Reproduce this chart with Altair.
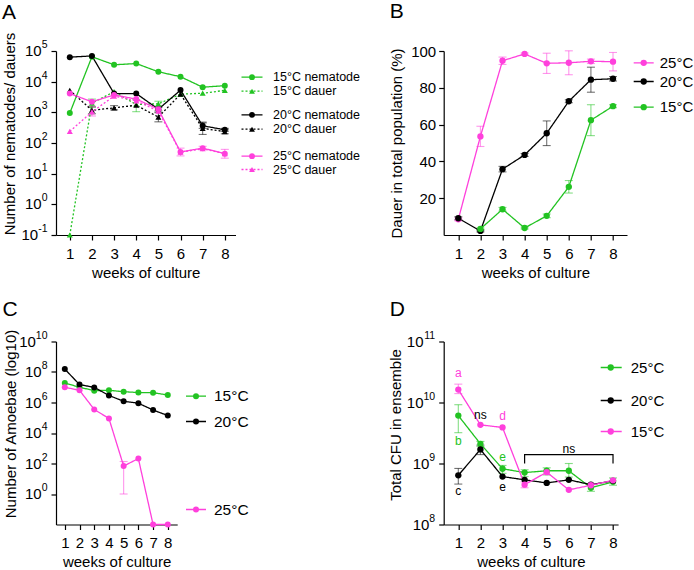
import altair as alt
import pandas as pd

FONT = "Liberation Sans"
GREEN = "#22c322"
BLACK = "#000000"
MAGENTA = "#ff40dc"

weeks = [1, 2, 3, 4, 5, 6, 7, 8]
x_title = "weeks of culture"

# ---------------- Panel A : nematodes / dauers ----------------
a_names = ["15°C nematode", "15°C dauer", "20°C nematode", "20°C dauer", "25°C nematode", "25°C dauer"]
a_15_nem = [950, 65000, 35500, 39000, 21000, 14500, 6600, 7400]
a_15_dau = [0.1, 2000, 4700, 1800, 1900, 3900, 4200, 5200]
a_20_nem = [63000, 69000, 4100, 4100, 1260, 5300, 365, 270]
a_20_dau = [5200, 1170, 1400, 1700, 700, 3900, 300, 235]
a_25_nem = [4100, 2200, 3700, 2700, 1260, 51, 68, 45]
a_25_dau = [240, 1030, 3400, 2350, 1100, 50, 65, 45]
a_15_nem_lo = [None] * 8
a_15_nem_hi = [None] * 8
a_15_dau_lo = [None, 1500, None, 1050, 1600, None, None, None]
a_15_dau_hi = [None, 2700, None, 2600, 2300, None, None, None]
a_20_nem_lo = [None, None, None, None, 1100, None, 300, 240]
a_20_nem_hi = [None, None, None, None, 1450, None, 450, 300]
a_20_dau_lo = [None, 900, 1200, None, 490, None, 190, 200]
a_20_dau_hi = [None, 1500, 1650, None, 980, None, 480, 270]
a_25_nem_lo = [None, None, None, None, None, 38, 60, 32]
a_25_nem_hi = [None, None, None, None, None, 68, 78, 62]
a_25_dau_lo = [None, 760, None, None, None, None, None, None]
a_25_dau_hi = [None, 1600, None, None, None, None, None, None]
a_exps = [-1, 0, 1, 2, 3, 4, 5]

# ---------------- Panel B : % dauer ----------------
b_names = ["25°C", "20°C", "15°C"]
b_25 = [8.5, 53.6, 94.7, 98.4, 93.3, 93.6, 94.4, 94.2]
b_25_sd = [0.8, 5.5, 2.0, 0.5, 5.5, 6.5, 1.2, 5.0]
b_20 = [9.1, 2.2, 35.8, 43.5, 55.3, 72.7, 84.4, 84.9]
b_20_sd = [0.8, 0.5, 1.5, 0.8, 6.7, 0.8, 6.8, 1.2]
b_15 = [None, 3.3, 14.0, 3.8, 10.4, 26.2, 62.4, 70.0]
b_15_sd = [None, 0.5, 1.0, 0.5, 1.0, 3.4, 8.4, 0.8]
b_ticks = [20, 40, 60, 80, 100]

# ---------------- Panel C : amoebae ----------------
c_names = ["15°C", "20°C", "25°C"]
c_15 = [1.9e7, 1.0e7, 6.0e6, 6.3e6, 5.1e6, 4.5e6, 4.4e6, 3.1e6]
c_20 = [1.55e8, 1.5e7, 9.8e6, 2.9e6, 1.2e6, 9.0e5, 3.2e5, 1.4e5]
c_25 = [1.0e7, 6.3e6, 3.5e5, 9.0e4, 68, 210, 0, 0]
c_25_lo = [None, None, None, None, 1, None, None, None]
c_25_hi = [None, None, None, None, 135, None, None, None]
c_floor = 1e-2  # zero counts sit on the axis floor
c_exps = [0, 2, 4, 6, 8, 10]

# ---------------- Panel D : CFU ----------------
d_names = ["25°C", "20°C", "15°C"]
d_25 = [6.1e9, 2.1e9, 8.2e8, 7.1e8, 7.6e8, 7.6e8, 4.0e8, 5.0e8]
d_25_lo = [3.2e9, 1.9e9, 6.9e8, 6.1e8, 6.5e8, 6.0e8, 3.5e8, 4.4e8]
d_25_hi = [9.2e9, 2.3e9, 9.3e8, 7.9e8, 8.5e8, 1.0e9, 4.6e8, 5.8e8]
d_20 = [6.4e8, 1.7e9, 6.1e8, 5.4e8, 4.8e8, 5.4e8, 4.5e8, 5.2e8]
d_20_lo = [4.6e8, 1.4e9, None, None, None, None, None, None]
d_20_hi = [8.3e8, 2.0e9, None, None, None, None, None, None]
d_15 = [1.63e10, 4.3e9, 3.9e9, 4.5e8, 7.2e8, 3.7e8, 4.4e8, 5.3e8]
d_15_lo = [1.4e10, None, None, 4.0e8, None, None, None, None]
d_15_hi = [2.0e10, None, None, 5.0e8, None, None, None, None]
d_exps = [8, 9, 10, 11]
d_ann_text = ["a", "b", "c", "ns", "d", "e", "e", "ns"]
d_ann_series = ["15°C", "25°C", "20°C", "20°C", "15°C", "25°C", "20°C", "20°C"]
d_ann_week = [1, 1, 1, 2, 3, 3, 3, 6]
d_ann_value = [3.0e10, 2.3e9, 3.6e8, 6.3e9, 6.0e9, 1.3e9, 4.1e8, 1.75e9]
d_br_week = [4, 4, 8, 8]
d_br_value = [1.0e9, 1.4e9, 1.4e9, 1.0e9]

EXP_FS = 10.5
LABEL_END = -8.5  # tickSize + label padding


def exp_width(e):
    s = str(e)
    return sum(0.333 if c == "-" else 0.556 for c in s) * EXP_FS


def long_df(names, vals, los, his):
    rows = []
    for n, v, lo, hi in zip(names, vals, los, his):
        for w, vv, l, h in zip(weeks, v, lo, hi):
            if vv is None:
                continue
            rows.append(dict(week=w, value=vv, series=n, lo=l, hi=h))
    return pd.DataFrame(rows)


def sd_bounds(v, sd, sign):
    return [None if a is None else a + sign * s for a, s in zip(v, sd)]


one = alt.Data(values=[{}])


def log_axis(exps, title, tx, ty=None):
    kw = dict(values=[10.0 ** e for e in exps], labels=False, title=title, titleX=tx,
              titleBaseline="middle")
    if ty is not None:
        kw["titleY"] = ty
    return alt.Axis(**kw)


def power_labels(exps, yscale, yaxis):
    """'10' base + raised exponent, placed on the y scale at each tick."""
    layers = []
    widths = sorted(set(round(exp_width(e), 2) for e in exps))
    for wd in widths:
        grp = [e for e in exps if round(exp_width(e), 2) == wd]
        df = pd.DataFrame(dict(value=[10.0 ** e for e in grp], base=["10"] * len(grp)))
        layers.append(alt.Chart(df).mark_text(align="right", baseline="middle", fontSize=15, font=FONT,
                                              color="black").encode(
            x=alt.value(LABEL_END - wd), y=alt.Y("value:Q", scale=yscale, axis=yaxis), text="base:N"))
    df = pd.DataFrame(dict(value=[10.0 ** e for e in exps], txt=[str(e) for e in exps]))
    layers.append(alt.Chart(df).mark_text(align="right", baseline="middle", fontSize=EXP_FS, font=FONT,
                                          color="black", dy=-6).encode(
        x=alt.value(LABEL_END), y=alt.Y("value:Q", scale=yscale, axis=yaxis), text="txt:N"))
    return layers


def legend_entry(x0, x1, xdot, xtext, y, color, dash, shape, label, fs, size):
    return [
        alt.Chart(one).mark_rule(color=color, strokeWidth=1.3, strokeDash=dash).encode(
            x=alt.value(x0), x2=alt.value(x1), y=alt.value(y)),
        alt.Chart(one).mark_point(filled=True, opacity=1, color=color, shape=shape, size=size).encode(
            x=alt.value(xdot), y=alt.value(y)),
        alt.Chart(one).mark_text(align="left", baseline="middle", fontSize=fs, font=FONT, color="black").encode(
            x=alt.value(xtext), y=alt.value(y), text=alt.value(label)),
    ]


def panel(df, names, colors, dashes, shapes, psize, xdom, yscale, yaxis, legend, letter, lxy):
    X = alt.X("week:Q", scale=alt.Scale(domain=xdom, nice=False, zero=False),
              axis=alt.Axis(values=weeks, title=x_title, labelPadding=6, titleY=37,
                            titleBaseline="middle", labelOverlap=False))
    Y = alt.Y("value:Q", scale=yscale, axis=yaxis)
    C = alt.Color("series:N", scale=alt.Scale(domain=names, range=colors), legend=None)
    layers = []
    err = df.dropna(subset=["lo"])
    if len(err):
        eb = alt.Chart(err)
        layers.append(eb.mark_rule(strokeWidth=1.1, opacity=0.55).encode(
            x=X, y=alt.Y("lo:Q", scale=yscale, axis=yaxis), y2="hi:Q", color=C))
        for f in ["lo", "hi"]:
            layers.append(eb.mark_rule(strokeWidth=1.1, opacity=0.55, xOffset=-4, x2Offset=4).encode(
                x=X, x2="week:Q", y=alt.Y(f + ":Q", scale=yscale, axis=yaxis), color=C))
    base = alt.Chart(df)
    layers.append(base.mark_line(strokeWidth=1.3).encode(
        x=X, y=Y, color=C,
        strokeDash=alt.StrokeDash("series:N", scale=alt.Scale(domain=names, range=dashes), legend=None)))
    layers.append(base.mark_point(filled=True, opacity=1, size=psize).encode(
        x=X, y=Y, color=C,
        shape=alt.Shape("series:N", scale=alt.Scale(domain=names, range=shapes), legend=None)))
    for e in legend:
        layers += legend_entry(*e)
    layers.append(alt.Chart(one).mark_text(align="left", baseline="alphabetic", fontSize=21,
                                           font=FONT, color="black").encode(
        x=alt.value(lxy[0]), y=alt.value(lxy[1]), text=alt.value(letter)))
    return layers, X, C


# ---- A
dfA = long_df(a_names, [a_15_nem, a_15_dau, a_20_nem, a_20_dau, a_25_nem, a_25_dau],
              [a_15_nem_lo, a_15_dau_lo, a_20_nem_lo, a_20_dau_lo, a_25_nem_lo, a_25_dau_lo],
              [a_15_nem_hi, a_15_dau_hi, a_20_nem_hi, a_20_dau_hi, a_25_nem_hi, a_25_dau_hi])
A_colors = [GREEN, GREEN, BLACK, BLACK, MAGENTA, MAGENTA]
A_dash = [[1, 0], [2, 2], [1, 0], [2, 2], [1, 0], [2, 2]]
A_shape = ["circle", "triangle-up"] * 3
A_y = [26.2, 40.2, 63.8, 78.2, 105.2, 118.5]
A_leg = [(185.5, 206.5, 196, 217, A_y[i], A_colors[i], A_dash[i], A_shape[i], a_names[i], 12.5, 34)
         for i in range(6)]
A_yscale = alt.Scale(type="log", domain=[0.1, 1e5], nice=False)
A_yaxis = log_axis(a_exps, "Number of nematodes/ dauers", -47, 82.5)
lA, _, _ = panel(dfA, a_names, A_colors, A_dash, A_shape, 36, [0.377, 8.483],
                 A_yscale, A_yaxis, A_leg, "A", (-54, -32))
lA += power_labels(a_exps, A_yscale, A_yaxis)
chartA = alt.layer(*lA).properties(width=179.5, height=184)

# ---- B
dfB = long_df(b_names, [b_25, b_20, b_15],
              [sd_bounds(b_25, b_25_sd, -1), sd_bounds(b_20, b_20_sd, -1), sd_bounds(b_15, b_15_sd, -1)],
              [sd_bounds(b_25, b_25_sd, 1), sd_bounds(b_20, b_20_sd, 1), sd_bounds(b_15, b_15_sd, 1)])
B_colors = [MAGENTA, BLACK, GREEN]
B_y = [11.8, 30.5, 56.2]
B_leg = [(190, 210, 200, 216, B_y[i], B_colors[i], [1, 0], "circle", b_names[i], 15, 40) for i in range(3)]
B_yscale = alt.Scale(domain=[0, 100], nice=False)
B_yaxis = alt.Axis(values=b_ticks, title="Dauer in total population (%)",
                   titleX=-47, titleBaseline="middle", labelOverlap=False)
lB, _, _ = panel(dfB, b_names, B_colors, [[1, 0]] * 3, ["circle"] * 3, 40, [0.339, 8.633],
                 B_yscale, B_yaxis, B_leg, "B", (-54, -33))
chartB = alt.layer(*lB).properties(width=183.3, height=184)

# ---- C
c_vals = [c_15, c_20, [max(v, c_floor) for v in c_25]]
dfC = long_df(c_names, c_vals, [[None] * 8, [None] * 8, c_25_lo], [[None] * 8, [None] * 8, c_25_hi])
C_colors = [GREEN, BLACK, MAGENTA]
C_y = [54.7, 80, 168]
C_leg = [(130, 150, 140, 158, C_y[i], C_colors[i], [1, 0], "circle", c_names[i], 15.5, 36) for i in range(3)]
C_yscale = alt.Scale(type="log", domain=[1e-2, 1e10], nice=False, clamp=True)
C_yaxis = log_axis(c_exps, "Number of Amoebae (log10)", -46, 82)
lC, _, _ = panel(dfC, c_names, C_colors, [[1, 0]] * 3, ["circle"] * 3, 36, [0.402, 8.64],
                 C_yscale, C_yaxis, C_leg, "C", (-53.5, -26))
lC += power_labels(c_exps, C_yscale, C_yaxis)
chartC = alt.layer(*lC).properties(width=121.2, height=183)

# ---- D
dfD = long_df(d_names, [d_25, d_20, d_15], [d_25_lo, d_20_lo, d_15_lo], [d_25_hi, d_20_hi, d_15_hi])
D_colors = [GREEN, BLACK, MAGENTA]
D_y = [26, 59, 90]
D_leg = [(157, 178, 167, 187, D_y[i], D_colors[i], [1, 0], "circle", d_names[i], 15, 40) for i in range(3)]
D_yscale = alt.Scale(type="log", domain=[1e8, 1e11], nice=False)
D_yaxis = log_axis(d_exps, "Total CFU in ensemble", -48, 83)
lD, XD, CD = panel(dfD, d_names, D_colors, [[1, 0]] * 3, ["circle"] * 3, 40, [0.339, 8.23],
                   D_yscale, D_yaxis, D_leg, "D", (-54, -26))
lD += power_labels(d_exps, D_yscale, D_yaxis)
YD = alt.Y("value:Q", scale=D_yscale, axis=D_yaxis)
ann = pd.DataFrame(dict(week=d_ann_week, value=d_ann_value, label=d_ann_text, series=d_ann_series))
lD.append(alt.Chart(ann).mark_text(fontSize=12, font=FONT, baseline="middle").encode(
    x=XD, y=YD, text="label:N", color=CD))
br = pd.DataFrame(dict(week=d_br_week, value=d_br_value, idx=list(range(len(d_br_week)))))
lD.append(alt.Chart(br).mark_line(color="black", strokeWidth=1.2).encode(
    x=XD, y=YD, order="idx:Q"))
chartD = alt.layer(*lD).properties(width=174.4, height=183)

chart = alt.concat(chartA, chartB, chartC, chartD, columns=2,
                   spacing={"row": 106.5, "column": 207.7}, bounds="flush", align="each").resolve_scale(
    color="independent", strokeDash="independent", shape="independent").configure_view(
    stroke=None).configure_axis(
    labelFont=FONT, titleFont=FONT, labelFontSize=15, titleFontSize=15, titleFontWeight="normal",
    labelColor="black", titleColor="black", domainColor="black", tickColor="black",
    domainWidth=1.2, tickWidth=1.2, tickSize=5, grid=False, labelPadding=3).properties(
    padding={"left": 1, "top": 1, "right": 0, "bottom": 0})

chart.save("out.html", embed_options={"renderer": "svg", "actions": False})
